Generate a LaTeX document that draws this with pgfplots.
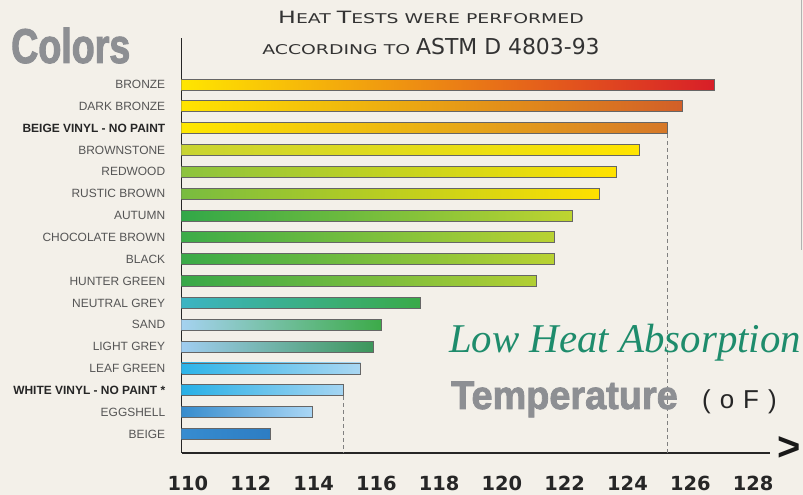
\documentclass[border=0pt]{standalone}
\usepackage{fontspec}
\setmainfont{Liberation Sans}
\usepackage{pgfplots}
\pgfplotsset{compat=1.18}
\newfontfamily\dejavu{DejaVu Sans}
\newfontfamily\cop[FakeStretch=1.4]{DejaVu Sans}
\newfontfamily\impactC[FakeStretch=0.77,BoldFeatures={FakeBold=2}]{Liberation Sans}
\newfontfamily\impactT[FakeStretch=0.95,BoldFeatures={FakeBold=2}]{Liberation Sans}
\newfontfamily\garamond{Liberation Serif}
\definecolor{bg}{RGB}{243,240,233}
\definecolor{titlegray}{RGB}{141,143,147}
\definecolor{lowgreen}{RGB}{30,140,108}
\definecolor{labelgray}{RGB}{85,85,85}
\newcommand{\BC}[1]{{\fontsize{17}{18}\selectfont #1}}
\pgfplotsset{mybar/.style={xbar, bar width=11bp, bar shift=0pt, draw=black!60, line width=0.9pt}}
\begin{document}
\begin{tikzpicture}[x=1bp,y=1bp]
\fill[bg] (0,0) rectangle (803,495);
\useasboundingbox (0,0) rectangle (803,495);
\draw[gray!60, line width=1pt] (801.5,495) -- (801.5,245);
\begin{axis}[
  at={(181.7bp,42bp)}, anchor=south west, scale only axis,
  width=588.3bp, height=415bp,
  xmin=0, xmax=18.74, ymin=-0.87, ymax=18.13,
  axis x line*=bottom, axis y line*=left,
  axis line style={line width=1.6pt, black!85},
  x filter/.expression={x-109.8},
  xtick={0.2,2.2,4.2,6.2,8.2,10.2,12.2,14.2,16.2,18.2},
  xticklabels={110,112,114,116,118,120,122,124,126,128},
  ytick={0,...,16},
  yticklabels={BEIGE,EGGSHELL,{\bfseries\color{black!85}WHITE VINYL - NO PAINT *},LEAF GREEN,LIGHT GREY,SAND,NEUTRAL GREY,HUNTER GREEN,BLACK,CHOCOLATE BROWN,AUTUMN,RUSTIC BROWN,REDWOOD,BROWNSTONE,{\bfseries\color{black!85}BEIGE VINYL - NO PAINT},DARK BRONZE,BRONZE},
  major tick length=0pt,
  yticklabel style={anchor=east, xshift=-13bp, font=\fontsize{12}{13}\selectfont, text=labelgray},
  xticklabel style={font=\dejavu\bfseries\fontsize{19.5}{20}\selectfont, text=black!85, yshift=-20bp},
]
\addplot[draw=gray, line width=0.9pt, dash pattern=on 4bp off 3bp] coordinates {(125.26,13.72) (125.26,-0.87)};
\addplot[draw=gray, line width=0.9pt, dash pattern=on 4bp off 3bp] coordinates {(114.96,1.72) (114.96,-0.87)};
\addplot[mybar, left color={rgb,255:red,255;green,230;blue,0}, middle color={rgb,255:red,236;green,140;blue,40}, right color={rgb,255:red,216;green,30;blue,40}] coordinates {(126.78,16)};
\addplot[mybar, left color={rgb,255:red,255;green,228;blue,0}, middle color={rgb,255:red,240;green,165;blue,35}, right color={rgb,255:red,210;green,95;blue,40}] coordinates {(125.74,15)};
\addplot[mybar, left color={rgb,255:red,255;green,232;blue,0}, middle color={rgb,255:red,248;green,200;blue,15}, right color={rgb,255:red,214;green,120;blue,40}] coordinates {(125.26,14)};
\addplot[mybar, left color={rgb,255:red,200;green,212;blue,50}, right color={rgb,255:red,255;green,228;blue,0}] coordinates {(124.37,13)};
\addplot[mybar, left color={rgb,255:red,140;green,195;blue,62}, right color={rgb,255:red,255;green,226;blue,0}] coordinates {(123.65,12)};
\addplot[mybar, left color={rgb,255:red,120;green,188;blue,64}, right color={rgb,255:red,255;green,224;blue,0}] coordinates {(123.10,11)};
\addplot[mybar, left color={rgb,255:red,50;green,168;blue,72}, right color={rgb,255:red,190;green,212;blue,48}] coordinates {(122.25,10)};
\addplot[mybar, left color={rgb,255:red,60;green,172;blue,72}, right color={rgb,255:red,185;green,210;blue,50}] coordinates {(121.66,9)};
\addplot[mybar, left color={rgb,255:red,58;green,170;blue,72}, right color={rgb,255:red,185;green,210;blue,50}] coordinates {(121.66,8)};
\addplot[mybar, left color={rgb,255:red,56;green,168;blue,72}, right color={rgb,255:red,178;green,207;blue,52}] coordinates {(121.11,7)};
\addplot[mybar, left color={rgb,255:red,60;green,180;blue,195}, right color={rgb,255:red,58;green,170;blue,72}] coordinates {(117.41,6)};
\addplot[mybar, left color={rgb,255:red,165;green,210;blue,240}, right color={rgb,255:red,60;green,170;blue,72}] coordinates {(116.17,5)};
\addplot[mybar, left color={rgb,255:red,160;green,205;blue,240}, right color={rgb,255:red,60;green,150;blue,90}] coordinates {(115.92,4)};
\addplot[mybar, left color={rgb,255:red,45;green,180;blue,232}, right color={rgb,255:red,170;green,215;blue,242}] coordinates {(115.50,3)};
\addplot[mybar, left color={rgb,255:red,40;green,176;blue,230}, right color={rgb,255:red,165;green,213;blue,242}] coordinates {(114.96,2)};
\addplot[mybar, left color={rgb,255:red,55;green,140;blue,205}, right color={rgb,255:red,170;green,215;blue,245}] coordinates {(113.97,1)};
\addplot[mybar, left color={rgb,255:red,55;green,140;blue,208}, right color={rgb,255:red,45;green,125;blue,195}] coordinates {(112.63,0)};
\end{axis}
\node[anchor=base west, inner sep=0, text=titlegray, font=\impactC\bfseries\fontsize{49}{50}\selectfont] at (11,432) {Colors};
\node[anchor=base, inner sep=0, text=black!80] at (431,471) {\cop\fontsize{13.5}{14}\selectfont \BC{H}EAT \BC{T}ESTS WERE PERFORMED};
\node[anchor=base, inner sep=0, text=black!80] at (431,440) {\cop\fontsize{13.5}{14}\selectfont ACCORDING TO {\dejavu\fontsize{22}{24}\selectfont ASTM D 4803-93}};
\node[anchor=base west, inner sep=0, text=lowgreen, font=\garamond\itshape\fontsize{41}{43}\selectfont] at (449,142) {Low Heat Absorption};
\node[anchor=base west, inner sep=0, text=titlegray, font=\impactT\bfseries\fontsize{40}{42}\selectfont] at (451,86) {Temperature};
\node[anchor=base west, inner sep=0, text=black!85, font=\fontsize{26}{28}\selectfont] at (702,86) {(\hspace{9bp}o\hspace{9bp}F\hspace{9bp})};
\node[anchor=center, inner sep=0, text=black!90, font=\bfseries\fontsize{40}{40}\selectfont] at (789,46) {>};
\end{tikzpicture}
\end{document}
